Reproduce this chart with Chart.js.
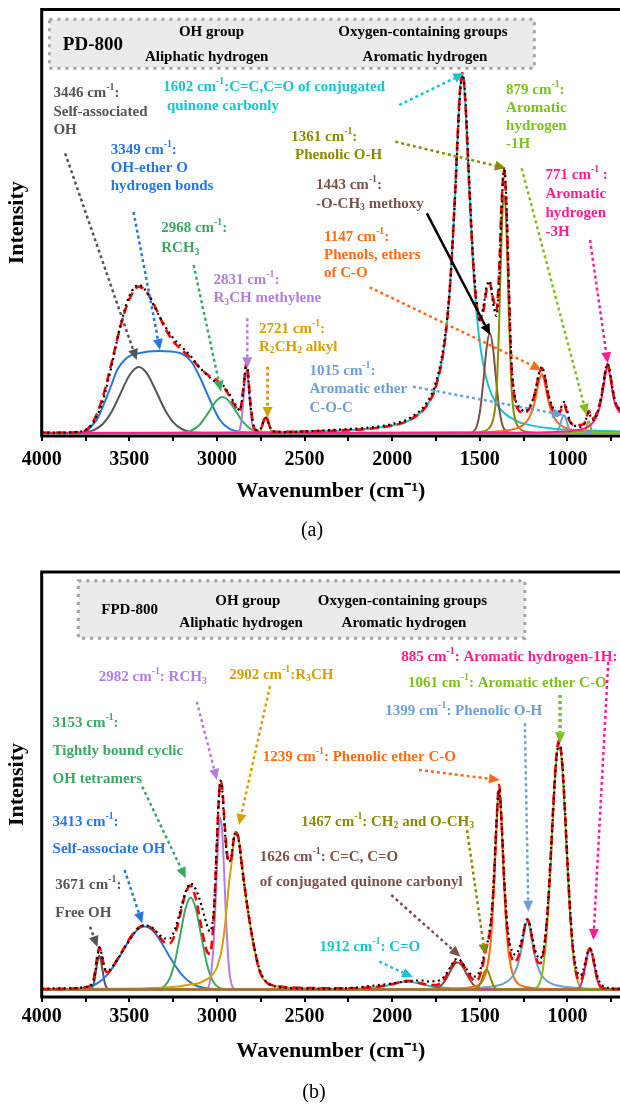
<!DOCTYPE html>
<html>
<head>
<meta charset="utf-8">
<title>FTIR peak fitting: PD-800 and FPD-800</title>
<script src="https://cdn.jsdelivr.net/npm/chart.js"></script>
<style>
  html, body { margin: 0; padding: 0; background: #fff; overflow: hidden; }
  .panel { position: absolute; left: 0; width: 620px; height: 552px; }
  #panelA { top: 0; }
  #panelB { top: 552px; }
</style>
</head>
<body>
<div class="panel" id="panelA"><canvas id="chartA" width="620" height="552"></canvas></div>
<div class="panel" id="panelB"><canvas id="chartB" width="620" height="552"></canvas></div>
<script>
const FONT = '"Liberation Serif", "Times New Roman", serif';

// x axis ticks (cm-1), labels only on the major ones
const majorTicks = [4000, 3500, 3000, 2500, 2000, 1500, 1000];
const minorTicks = [3750, 3250, 2750, 2250, 1750, 1250, 750];

// ---------- (a) PD-800 ----------
const wnA = [4000, 3900, 3850, 3800, 3750, 3700, 3650, 3600, 3550, 3500, 3446, 3400, 3350, 3300, 3250, 3200, 3150, 3100, 3050, 3000,
  2968, 2940, 2900, 2870, 2850, 2831, 2810, 2790, 2770, 2750, 2735, 2721, 2705, 2690, 2670, 2640, 2600, 2500, 2400, 2300,
  2200, 2100, 2000, 1900, 1800, 1750, 1700, 1670, 1640, 1620, 1610, 1600, 1590, 1580, 1560, 1540, 1520, 1500, 1480, 1460,
  1443, 1425, 1405, 1390, 1375, 1361, 1348, 1335, 1320, 1300, 1280, 1260, 1240, 1220, 1200, 1180, 1165, 1147, 1130, 1115,
  1100, 1080, 1060, 1040, 1020, 1005, 990, 970, 950, 930, 910, 895, 879, 865, 850, 830, 810, 795, 780, 771,
  760, 745, 730, 715, 700];
const fitA = [0.2, 0.3, 0.4, 0.8, 2.5, 13.5, 36.6, 71, 106.9, 133.8, 146.4, 140.6, 125.2, 106.2, 91.8, 83, 75.3, 65.4, 57.7, 52.5,
  47.2, 40.4, 27.8, 22, 43.6, 70.7, 32.1, 5.9, 2.3, 3.9, 11.6, 17.1, 10, 2.8, 1.05, 1.1, 1.2, 1.5, 1.9, 2.5,
  3.3, 4.8, 7.5, 13.1, 28.1, 47, 91, 146.8, 244.2, 321.8, 349.5, 359.9, 349.6, 322, 244.6, 175.6, 130.9, 112.6, 121.7, 144,
  149.7, 135.1, 122.6, 160.6, 232, 262.7, 224.5, 146.7, 68.6, 33, 23.2, 20.7, 20.6, 23.9, 30.9, 43.6, 56.4, 65.1, 56.3, 42.5,
  31, 21.9, 17.3, 21.8, 28.7, 21.8, 12.7, 8.5, 8, 8, 8.6, 12.4, 22.3, 16.5, 14.9, 21, 33.3, 48.5, 64.8, 68.6,
  62.9, 46.5, 32.5, 26.2, 22.2];
const measA = [0.5, 0.4, 0.6, 1.2, 3, 12, 33, 68, 108, 137, 148, 141, 124, 108, 95, 86, 77, 66, 57, 50,
  48, 42, 30, 23, 42, 69, 30, 7, 3, 4.5, 11, 15, 9.5, 3.5, 1.5, 1, 0.8, 1.5, 2.5, 3.5,
  4.5, 6, 9, 15, 31, 51, 95, 148, 240, 316, 345, 358, 352, 328, 252, 181, 134, 113, 126, 147,
  152, 131, 117, 150, 226, 266, 230, 152, 74, 37, 27, 23, 22, 25, 32, 45, 58, 66, 58, 44,
  33, 24, 19, 24, 31, 25, 14, 8, 7, 6, 7, 13, 21, 15, 13, 20, 33, 49, 66, 69,
  63, 47, 33, 27, 23];

// fitted components of (a), [wavenumber, intensity]
const a3446 = [[4000, 0], [3850, 0], [3800, 0.2], [3750, 0.9], [3700, 3.2], [3650, 9.3], [3600, 21.6], [3550, 39.6], [3500, 57.5], [3446, 66], [3400, 59.7], [3350, 42.8], [3300, 24.3], [3250, 10.8], [3200, 3.8], [3150, 1.1], [3100, 0.3], [3000, 0], [700, 0]];
const a3349 = [[4000, 0], [3800, 0.3], [3750, 1.3], [3700, 10], [3686, 13], [3650, 27], [3629, 36], [3600, 49], [3572, 62], [3515, 75], [3440, 80], [3330, 82], [3212, 80], [3145, 71], [3098, 56], [3040, 33], [2983, 13], [2926, 4], [2852, 1], [2780, 0.2], [2700, 0], [700, 0]];
const a2968 = [[4000, 0], [3250, 0], [3200, 0.3], [3150, 2], [3100, 8], [3050, 20.1], [3000, 32.9], [2968, 36], [2940, 33.6], [2900, 24.1], [2870, 15.7], [2850, 10.8], [2810, 4.2], [2790, 2.3], [2770, 1.2], [2750, 0.6], [2700, 0.1], [2650, 0], [700, 0]];
const a2831 = [[4000, 0], [2900, 0], [2880, 0.6], [2870, 3.3], [2860, 12.3], [2850, 31], [2840, 53.1], [2831, 62], [2820, 49.1], [2810, 26.6], [2800, 9.8], [2790, 2.5], [2780, 0.4], [2760, 0], [700, 0]];
const a2721 = [[4000, 0], [2780, 0], [2765, 0.2], [2750, 2.4], [2735, 10.3], [2721, 16], [2705, 9], [2690, 1.8], [2675, 0.1], [2650, 0], [700, 0]];
const a1602 = [[4000, 0.2], [3500, 0.3], [3000, 0.6], [2600, 1.2], [2400, 1.9], [2200, 3.3], [2000, 7.4], [1900, 12.9], [1800, 27.9], [1750, 46.7], [1700, 90.4], [1670, 146.1], [1640, 243.3], [1620, 320.9], [1610, 348.6], [1600, 359], [1590, 348.6], [1580, 320.9], [1560, 243.3], [1540, 173.4], [1520, 123.7], [1500, 90.4], [1460, 52.6], [1400, 27.9], [1300, 12.9], [1200, 7.4], [1100, 4.8], [1000, 3.3], [900, 2.5], [800, 1.9], [700, 1.5]];
const a1443 = [[4000, 0], [1580, 0], [1560, 0.1], [1540, 1], [1520, 5.5], [1500, 20.5], [1480, 51.3], [1460, 86.8], [1443, 100], [1425, 85.4], [1405, 49.4], [1390, 25.4], [1375, 10.5], [1360, 3.5], [1340, 0.6], [1320, 0.1], [1300, 0], [700, 0]];
const a1361 = [[4000, 0], [1531, 0.3], [1481, 1.5], [1446, 5], [1426, 12], [1411, 27], [1401, 53], [1391, 102], [1381, 165], [1371, 219], [1361, 237], [1351, 219], [1341, 165], [1331, 102], [1321, 53], [1311, 27], [1296, 12], [1276, 5], [1241, 1.5], [1191, 0.3], [1100, 0], [700, 0]];
const a1147 = [[4000, 0], [2147, 0.1], [1647, 0.4], [1447, 1.1], [1347, 2.5], [1277, 5.6], [1237, 10.6], [1207, 19.4], [1192, 27.5], [1177, 39], [1162, 52.3], [1147, 59], [1132, 52.3], [1117, 39], [1102, 27.5], [1087, 19.4], [1057, 10.6], [1017, 5.6], [947, 2.5], [847, 1.1], [700, 0.5]];
const a1015 = [[4000, 0], [1100, 0], [1080, 0.1], [1060, 1.1], [1040, 9], [1030, 15.1], [1020, 18], [1010, 15.1], [1000, 9], [990, 3.8], [970, 0.2], [950, 0], [700, 0]];
const a879 = [[4000, 0], [930, 0], [910, 0.1], [895, 3.3], [887, 8.7], [879, 12], [871, 8.7], [863, 3.3], [848, 0.1], [830, 0], [700, 0]];
const a771 = [[4000, 0], [1500, 0.2], [1200, 0.5], [1000, 1.6], [950, 2.6], [910, 4.2], [879, 6.6], [850, 11.4], [830, 17.9], [810, 30.4], [795, 45.7], [780, 62.1], [771, 66], [760, 60.4], [745, 44], [730, 30], [715, 24], [700, 20]];

// ---------- (b) FPD-800 ----------
const wnB = [4000, 3900, 3800, 3750, 3720, 3700, 3685, 3671, 3655, 3640, 3620, 3600, 3550, 3500, 3450, 3413, 3370, 3330, 3300, 3270,
  3240, 3210, 3180, 3150, 3120, 3090, 3060, 3040, 3020, 3010, 3000, 2990, 2980, 2970, 2960, 2945, 2930, 2917, 2905, 2893,
  2875, 2860, 2840, 2820, 2800, 2780, 2760, 2740, 2720, 2700, 2650, 2600, 2500, 2400, 2300, 2200, 2100, 2000, 1950, 1912,
  1870, 1830, 1790, 1750, 1720, 1690, 1660, 1640, 1626, 1610, 1590, 1570, 1550, 1530, 1510, 1490, 1475, 1462, 1450, 1435,
  1420, 1405, 1390, 1375, 1360, 1345, 1330, 1315, 1300, 1285, 1270, 1255, 1240, 1228, 1215, 1200, 1185, 1170, 1155, 1140,
  1125, 1110, 1095, 1080, 1065, 1048, 1030, 1015, 1000, 985, 970, 955, 940, 925, 910, 895, 883, 872, 860, 845,
  830, 815, 800, 780, 760, 740, 720, 700];
const fitB = [0.5, 0.6, 1.2, 2.4, 4.3, 13.2, 30.9, 42.3, 32.3, 19.3, 17.2, 21.4, 35.5, 50.4, 61.5, 64.3, 61, 53.1, 47.1, 46.1,
  55, 74.5, 95.9, 103.9, 90.5, 63.6, 39.5, 35.6, 66.9, 103.2, 147, 187.9, 208, 202, 177, 139.4, 127.6, 131.5, 149.3, 157.2,
  150, 128, 100, 75, 53.5, 35.3, 20.3, 12.2, 7.7, 5.2, 3.2, 2.2, 1.5, 1.3, 1.2, 1.5, 2.4, 5.4, 7.6, 8.6,
  7.6, 5.9, 4.5, 4.4, 6.9, 13.7, 23.5, 28.4, 29.6, 28.4, 23.4, 17.3, 11.9, 8.7, 10, 19.4, 31.7, 42, 50, 67.5,
  106.6, 165.2, 204.7, 166, 106.6, 63.1, 40.2, 30.2, 27.5, 30.6, 38.9, 51.6, 65.7, 70.3, 64, 49.1, 35.6, 27.7, 26.2, 33.5,
  52.7, 86.7, 134, 186.6, 229.8, 249.2, 226.1, 180.4, 126.3, 77.8, 42.3, 20.9, 10.4, 8.6, 15, 27.8, 37.6, 41.2, 36.8, 23.4,
  10.8, 3.9, 1.5, 0.85, 0.73, 0.68, 0.63, 0.6];
const measB = [0.8, 1.2, 1.5, 2.5, 4, 12, 29, 42, 33, 21, 19, 22, 35, 49, 61, 64, 62, 55, 51, 51,
  60, 78, 97, 106, 100, 85, 66, 58, 75, 104, 150, 190, 209, 200, 172, 138, 128, 133, 150, 157,
  148, 126, 100, 76, 55, 37, 22, 13, 8, 5, 2.5, 1.5, 1, 0.8, 1, 2, 4, 6, 7.5, 8,
  9, 9, 8, 8.5, 10, 16, 25, 30, 31, 29, 24, 19, 15, 13, 15, 24, 35, 44, 52, 72,
  110, 166, 200, 163, 108, 68, 47, 38, 35, 37, 44, 54, 66, 70, 65, 52, 40, 33, 31, 37,
  55, 88, 134, 184, 226, 246, 228, 184, 130, 82, 47, 26, 16, 14, 19, 30, 38, 40, 37, 26,
  14, 7, 4, 2, 1.5, 1, 0.8, 0.6];

// fitted components of (b), [wavenumber, intensity]
const b3671 = [[4000, 0], [3740, 0], [3720, 0.5], [3710, 2.4], [3700, 7.9], [3685, 24.2], [3671, 34], [3655, 21.8], [3640, 6.4], [3630, 1.9], [3620, 0.4], [3600, 0], [700, 0]];
const b3413 = [[4000, 0], [3850, 0.1], [3800, 0.5], [3750, 1.7], [3700, 4.5], [3650, 10.4], [3600, 20.6], [3550, 34.6], [3500, 49.4], [3450, 60.3], [3413, 63], [3370, 59.4], [3330, 50.5], [3300, 41.9], [3270, 32.8], [3240, 24.2], [3210, 16.9], [3180, 11.1], [3150, 6.9], [3120, 4], [3090, 2.2], [3060, 1.2], [3000, 0.3], [2950, 0.1], [2900, 0], [700, 0]];
const b3153 = [[4000, 0], [3400, 0], [3350, 0.2], [3300, 3.3], [3270, 10.8], [3240, 27.6], [3210, 53.9], [3180, 80.5], [3150, 92], [3120, 80.5], [3090, 53.9], [3060, 27.6], [3040, 15.2], [3020, 7.5], [3000, 3.3], [2960, 0.4], [2930, 0.1], [2900, 0], [700, 0]];
const b2982 = [[4000, 0], [3080, 0], [3060, 0.7], [3040, 7.6], [3020, 42.9], [3010, 78.8], [3000, 121.5], [2990, 157.7], [2980, 172], [2970, 157.7], [2960, 121.5], [2950, 78.8], [2945, 59.4], [2930, 19.6], [2917, 5.5], [2905, 1.3], [2893, 0.2], [2870, 0], [700, 0]];
const b2902 = [[4000, 0.4], [3800, 0.6], [3600, 0.8], [3400, 1.3], [3300, 2], [3200, 3.5], [3150, 5], [3100, 6.5], [3060, 10], [3040, 12], [3020, 16], [3000, 22], [2990, 28], [2975, 38], [2960, 55], [2945, 80], [2930, 108], [2917, 126], [2905, 148], [2893, 157], [2875, 150], [2860, 128], [2840, 100], [2820, 75], [2794, 47], [2770, 27], [2755, 17], [2730, 9], [2700, 5], [2650, 3], [2600, 2], [2500, 1.2], [2300, 0.6], [2000, 0.3], [1500, 0.1], [700, 0]];
const b1912 = [[4000, 0], [3000, 0.1], [2500, 0.3], [2300, 0.6], [2200, 1], [2100, 2], [2000, 4.9], [1950, 7.2], [1912, 8], [1870, 7], [1830, 5.1], [1790, 3.6], [1750, 2.5], [1700, 1.7], [1600, 0.9], [1500, 0.5], [1300, 0.3], [1000, 0.1], [700, 0.1]];
const b1626 = [[4000, 0], [1800, 0], [1750, 1], [1720, 4], [1690, 11.1], [1660, 21], [1640, 25.9], [1626, 27], [1610, 25.5], [1590, 20.4], [1570, 13.7], [1550, 7.7], [1530, 3.7], [1510, 1.5], [1490, 0.5], [1460, 0.1], [1440, 0], [700, 0]];
const b1467 = [[4000, 0], [1540, 0], [1520, 0.6], [1510, 1.9], [1490, 8.9], [1475, 16.8], [1462, 20], [1450, 17.2], [1435, 9.4], [1420, 3.2], [1405, 0.7], [1390, 0.1], [1370, 0], [700, 0]];
const b1239 = [[4000, 0], [2390, 0], [1890, 0.2], [1690, 0.5], [1590, 1.3], [1530, 3], [1500, 5.5], [1480, 10], [1465, 17], [1450, 30], [1440, 44], [1430, 66], [1420, 100], [1410, 140], [1400, 181], [1390, 200], [1380, 181], [1370, 140], [1360, 100], [1350, 66], [1340, 44], [1330, 30], [1315, 17], [1300, 10], [1280, 5.5], [1250, 3], [1190, 1.3], [1090, 0.5], [890, 0.2], [700, 0.1]];
const b1399 = [[4000, 0], [2228, 0.1], [1728, 0.5], [1528, 1.3], [1428, 2.9], [1375, 5.1], [1345, 7.8], [1330, 9.9], [1315, 12.9], [1300, 17.3], [1285, 23.9], [1270, 34], [1255, 48.1], [1240, 62.9], [1228, 68], [1216, 62.9], [1201, 48.1], [1186, 34], [1171, 23.9], [1156, 17.3], [1141, 12.9], [1126, 9.9], [1111, 7.8], [1081, 5.1], [1028, 2.9], [928, 1.3], [728, 0.5], [700, 0.4]];
const b1061 = [[4000, 0], [1250, 0], [1200, 0.3], [1185, 0.9], [1170, 2.9], [1155, 8.1], [1140, 19.8], [1125, 42], [1110, 78.1], [1095, 127], [1080, 180.7], [1065, 224.8], [1048, 245], [1030, 222.5], [1015, 177.2], [1000, 123.5], [985, 75.3], [970, 40.1], [955, 18.7], [940, 7.6], [925, 2.7], [910, 0.9], [895, 0.2], [870, 0], [700, 0]];
const b885 = [[4000, 0], [970, 0], [960, 0.1], [940, 1], [925, 4.2], [910, 12.6], [895, 26.2], [883, 36.3], [872, 40], [860, 35.6], [845, 22.3], [830, 9.8], [815, 3], [800, 0.6], [780, 0.1], [760, 0], [700, 0]];

const COL = {
  gray: '#555555', blue: '#2676e2', green: '#3aa863', purple: '#b07fe0', gold: '#d6a000',
  cyan: '#17c5cf', brown: '#7b5249', olive: '#8a8a00', orange: '#ff6a12', lightblue: '#6c9fd6',
  lime: '#7cc11c', pink: '#ff1d8e', fit: '#ff0000', meas: '#000000'
};

// annotation texts and arrows, placed in data units (wavenumber, intensity)
const notesA = [
  { x: 3933, y: 339.7, c: COL.gray, lines: ['3446 cm^{-1}:', 'Self-associated', 'OH'], gap: 18.5 },
  { x: 3606, y: 283, c: COL.blue, lines: ['3349 cm^{-1}:', 'OH-ether O', 'hydrogen bonds'], gap: 18 },
  { x: 3307, y: 346.3, c: COL.cyan, lines: ['1602 cm^{-1}:C=C,C=O of conjugated', ' quinone carbonly'], gap: 19.3 },
  { x: 2576, y: 296.3, c: COL.olive, lines: ['1361 cm^{-1}:', ' Phenolic O-H'], gap: 18.3 },
  { x: 1350, y: 343, c: COL.lime, lines: ['879 cm^{-1}:', 'Aromatic', 'hydrogen', '-1H'], gap: 18 },
  { x: 1125, y: 258, c: COL.pink, lines: ['771 cm^{-1} :', 'Aromatic', 'hydrogen', '-3H'], gap: 19 },
  { x: 2435, y: 248, c: COL.brown, lines: ['1443 cm^{-1}:', '-O-CH_{3} methoxy'], gap: 19 },
  { x: 3318, y: 204.7, c: COL.green, lines: ['2968 cm^{-1}:', 'RCH_{3}'], gap: 20 },
  { x: 2389, y: 196.3, c: COL.orange, lines: ['1147 cm^{-1}:', 'Phenols, ethers', 'of C-O'], gap: 18 },
  { x: 3020, y: 153, c: COL.purple, lines: ['2831 cm^{-1}:', 'R_{3}CH methylene'], gap: 18.3 },
  { x: 2760, y: 104, c: COL.gold, lines: ['2721 cm^{-1}:', 'R_{2}CH_{2} alkyl'], gap: 17.7 },
  { x: 2472, y: 62.3, c: COL.lightblue, lines: ['1015 cm^{-1}:', 'Aromatic ether', 'C-O-C'], gap: 18.5 }
];
const arrowsA = [
  { from: [3866, 279.7], to: [3458, 73], c: COL.gray },
  { from: [3476, 221], to: [3325, 83], c: COL.blue },
  { from: [3133, 168], to: [2977, 41.3], c: COL.green },
  { from: [2827, 114.7], to: [2827, 64.7], c: COL.purple },
  { from: [2711, 66.3], to: [2711, 15], c: COL.gold, w: 3 },
  { from: [1960, 328], to: [1588, 359.7], c: COL.cyan },
  { from: [1982, 291.3], to: [1351, 264.7], c: COL.olive },
  { from: [1802, 219.7], to: [1441, 98], c: '#000', solid: true },
  { from: [2129, 145.7], to: [1147, 63], c: COL.orange },
  { from: [1881, 46.3], to: [1024, 18], c: COL.lightblue },
  { from: [1261, 264.7], to: [890, 18], c: COL.lime },
  { from: [871, 193], to: [770, 69.7], c: COL.pink }
];
const notesB = [
  { x: 1948.5, y: 332.8, c: COL.pink, lines: ['885 cm^{-1}: Aromatic hydrogen-1H:'] },
  { x: 3674, y: 312.2, c: COL.purple, lines: ['2982 cm^{-1}: RCH_{3}'] },
  { x: 2930, y: 314.5, c: COL.gold, lines: ['2902 cm^{-1}:R_{3}CH'] },
  { x: 1910, y: 306.2, c: COL.lime, lines: ['1061 cm^{-1}: Aromatic ether C-O'] },
  { x: 2039, y: 278.8, c: COL.lightblue, lines: ['1399 cm^{-1}: Phenolic O-H'] },
  { x: 3938, y: 266.2, c: COL.green, lines: ['3153 cm^{-1}:', 'Tightly bound cyclic', 'OH tetramers'], gap: 28 },
  { x: 2738, y: 232.2, c: COL.orange, lines: ['1239 cm^{-1}: Phenolic ether C-O'] },
  { x: 2519, y: 167.8, c: COL.olive, lines: ['1467 cm^{-1}: CH_{2} and O-CH_{3}'] },
  { x: 3938, y: 167.8, c: COL.blue, lines: ['3413 cm^{-1}:', 'Self-associate OH'], gap: 27.3 },
  { x: 2756, y: 132.2, c: COL.brown, lines: ['1626 cm^{-1}: C=C, C=O', 'of conjugated quinone carbonyl'], gap: 24.4 },
  { x: 3922, y: 104.5, c: COL.gray, lines: ['3671 cm^{-1}:', 'Free OH'], gap: 28.3 },
  { x: 2415, y: 42.8, c: COL.cyan, lines: ['1912 cm^{-1}: C=O'] }
];
const arrowsB = [
  { from: [3115, 287.8], to: [3000, 209.5], c: COL.purple },
  { from: [2697, 303.5], to: [2874, 164.5], c: COL.gold },
  { from: [3426, 202.8], to: [3178, 111.2], c: COL.green },
  { from: [3527, 119.5], to: [3426, 66.2], c: COL.blue },
  { from: [3724, 62.8], to: [3682, 42.5], c: COL.gray },
  { from: [1847, 219.5], to: [1385, 209.5], c: COL.orange },
  { from: [1243, 266.2], to: [1223, 77.8], c: COL.lightblue },
  { from: [1042, 294.5], to: [1042, 246.2], c: COL.lime, w: 3.5 },
  { from: [767, 327.5], to: [852, 49.5], c: COL.pink },
  { from: [1573, 159.5], to: [1470, 34.5], c: COL.olive },
  { from: [2005, 94.5], to: [1610, 32.8], c: COL.brown },
  { from: [2073, 27.8], to: [1881, 12.2], c: COL.cyan }
];

// draws "cm^{-1}" / "CH_{3}" style text
function drawRich(ctx, str, x, y, size, color) {
  const parts = str.split(/(\^\{[^}]*\}|_\{[^}]*\})/);
  let cx = x;
  ctx.fillStyle = color;
  ctx.textAlign = 'left';
  ctx.textBaseline = 'middle';
  parts.forEach(p => {
    if (!p) return;
    let s = size, dy = 0, t = p;
    if (p[0] === '^') { t = p.slice(2, -1); s = size * 0.65; dy = -size * 0.36; }
    else if (p[0] === '_') { t = p.slice(2, -1); s = size * 0.65; dy = size * 0.26; }
    ctx.font = 'bold ' + s + 'px ' + FONT;
    ctx.fillText(t, cx, y + dy);
    cx += ctx.measureText(t).width;
  });
}

function drawArrow(ctx, x1, y1, x2, y2, color, solid, width) {
  const ang = Math.atan2(y2 - y1, x2 - x1);
  const hl = 11, hw = 5;
  const bx = x2 - hl * Math.cos(ang), by = y2 - hl * Math.sin(ang);
  ctx.save();
  ctx.strokeStyle = color;
  ctx.lineWidth = width;
  ctx.setLineDash(solid ? [] : [3, 3]);
  ctx.beginPath();
  ctx.moveTo(x1, y1);
  ctx.lineTo(bx, by);
  ctx.stroke();
  ctx.setLineDash([]);
  ctx.fillStyle = color;
  ctx.beginPath();
  ctx.moveTo(x2, y2);
  ctx.lineTo(bx + hw * Math.sin(ang), by - hw * Math.cos(ang));
  ctx.lineTo(bx - hw * Math.sin(ang), by + hw * Math.cos(ang));
  ctx.closePath();
  ctx.fill();
  ctx.restore();
}

function makeOverlay(cfg) {
  return {
    id: 'overlay',
    afterDatasetsDraw(chart) {
      const { ctx, chartArea: ca, scales } = chart;
      const px = (wn, v) => [scales.x.getPixelForValue(wn), scales.y.getPixelForValue(v)];
      ctx.save();

      // header box (legend-like)
      const b = cfg.header.box;
      ctx.fillStyle = '#ebebeb';
      ctx.fillRect(b[0], b[1], b[2] - b[0], b[3] - b[1]);
      ctx.strokeStyle = '#a3a3a3';
      ctx.lineWidth = 3;
      ctx.setLineDash([3, 5]);
      ctx.strokeRect(b[0], b[1], b[2] - b[0], b[3] - b[1]);
      ctx.setLineDash([]);
      ctx.fillStyle = '#000';
      ctx.textAlign = 'center';
      ctx.textBaseline = 'middle';
      cfg.header.items.forEach(it => {
        ctx.font = 'bold ' + it.size + 'px ' + FONT;
        ctx.fillText(it.text, it.x, it.y);
      });

      cfg.arrows.forEach(a => {
        const p1 = px(a.from[0], a.from[1]);
        const p2 = px(a.to[0], a.to[1]);
        drawArrow(ctx, p1[0], p1[1], p2[0], p2[1], a.c, a.solid, a.w || 2.5);
      });
      cfg.notes.forEach(n => {
        const p = px(n.x, n.y);
        n.lines.forEach((l, i) => drawRich(ctx, l, p[0], p[1] + i * (n.gap || 18), 15, n.c));
      });

      // frame: left, top and bottom
      ctx.strokeStyle = '#000';
      ctx.lineWidth = 3;
      ctx.beginPath();
      ctx.moveTo(ca.right + 2, ca.top);
      ctx.lineTo(ca.left, ca.top);
      ctx.lineTo(ca.left, ca.bottom);
      ctx.lineTo(ca.right + 2, ca.bottom);
      ctx.stroke();

      ctx.font = '20px ' + FONT;
      ctx.fillStyle = '#000';
      ctx.textAlign = 'center';
      ctx.textBaseline = 'middle';
      ctx.fillText(cfg.caption.text, cfg.caption.x, cfg.caption.y);
      ctx.restore();
    }
  };
}

function series(pts, color, extra) {
  return Object.assign({
    data: pts.map(p => ({ x: p[0], y: p[1] })),
    borderColor: color,
    borderWidth: 2,
    pointRadius: 0,
    fill: false,
    cubicInterpolationMode: 'monotone'
  }, extra || {});
}

function zip(xs, ys) {
  return xs.map((x, i) => [x, ys[i]]);
}

function makeChart(id, p) {
  const datasets = [
    series(zip(p.wn, p.meas), COL.meas, { borderWidth: 2.2, borderDash: [2, 3.5] }),
    series(zip(p.wn, p.fit), COL.fit, { borderWidth: 2.6, borderDash: [9, 5] })
  ].concat(p.comps.map(c => series(c[0], c[1])));

  return new Chart(document.getElementById(id), {
    type: 'line',
    data: { datasets: datasets },
    options: {
      responsive: false,
      animation: false,
      events: [],
      devicePixelRatio: 1,
      layout: { padding: { top: p.top, left: 0, right: 0, bottom: p.bottom } },
      plugins: { legend: { display: false }, tooltip: { enabled: false } },
      scales: {
        x: {
          type: 'linear',
          reverse: true,
          min: 700,
          max: 4000,
          afterBuildTicks: s => {
            s.ticks = majorTicks.concat(minorTicks).sort((a, b) => b - a).map(v => ({ value: v }));
          },
          afterFit: s => { s.height = p.xHeight; },
          ticks: {
            autoSkip: false,
            maxRotation: 0,
            padding: p.tickPad,
            color: '#000',
            font: { size: 20, weight: 'bold' },
            callback: v => (majorTicks.includes(v) ? String(v) : '')
          },
          grid: { display: true, drawOnChartArea: false, drawTicks: true, tickLength: 5, color: '#000', lineWidth: 2 },
          border: { display: false },
          title: {
            display: true,
            text: 'Wavenumber (cm\u207B\u00B9)',
            color: '#000',
            font: { size: 22, weight: 'bold' },
            padding: { top: 0, bottom: 0 }
          }
        },
        y: {
          min: p.yMin,
          max: p.yMax,
          afterFit: s => { s.width = 41.7; },
          ticks: { display: false },
          grid: { display: false, drawTicks: false },
          border: { display: false },
          title: {
            display: true,
            text: 'Intensity',
            color: '#000',
            font: { size: 22, weight: 'bold' },
            padding: { top: 3.8, bottom: 0 }
          }
        }
      }
    },
    plugins: [makeOverlay(p.overlay)]
  });
}

Chart.defaults.font.family = FONT;
Chart.defaults.color = '#000';

makeChart('chartA', {
  wn: wnA, fit: fitA, meas: measA,
  comps: [[a771, COL.pink], [a879, COL.lime], [a1015, COL.lightblue], [a1147, COL.orange], [a1361, COL.olive],
    [a1443, COL.brown], [a1602, COL.cyan], [a2721, COL.gold], [a2831, COL.purple], [a2968, COL.green],
    [a3349, COL.blue], [a3446, COL.gray]],
  top: 9.5, bottom: 47.8, xHeight: 68.2, tickPad: 7, yMin: -3, yMax: 423.5,
  overlay: {
    header: {
      box: [49.4, 19.3, 534.4, 68.3],
      items: [
        { text: 'PD-800', x: 92.9, y: 45, size: 19 },
        { text: 'OH group', x: 211.5, y: 32.3, size: 15 },
        { text: 'Aliphatic hydrogen', x: 206.7, y: 56.7, size: 15 },
        { text: 'Oxygen-containing groups', x: 423, y: 31.7, size: 15 },
        { text: 'Aromatic hydrogen', x: 425, y: 56.7, size: 15 }
      ]
    },
    notes: notesA, arrows: arrowsA,
    caption: { text: '(a)', x: 312, y: 531 }
  }
});

makeChart('chartB', {
  wn: wnB, fit: fitB, meas: measB,
  comps: [[b1467, COL.olive], [b885, COL.pink], [b1061, COL.lime], [b1399, COL.lightblue], [b1239, COL.orange],
    [b1626, COL.brown], [b1912, COL.cyan], [b2902, COL.gold], [b2982, COL.purple], [b3153, COL.green],
    [b3413, COL.blue], [b3671, COL.gray]],
  top: 20, bottom: 39.8, xHeight: 67.2, tickPad: 3, yMin: -7.5, yMax: 417.5,
  overlay: {
    header: {
      box: [78.3, 28.7, 524.9, 86.3],
      items: [
        { text: 'FPD-800', x: 129.6, y: 58, size: 15 },
        { text: 'OH group', x: 247.8, y: 48.7, size: 15 },
        { text: 'Aliphatic hydrogen', x: 241.1, y: 70.7, size: 15 },
        { text: 'Oxygen-containing groups', x: 402.4, y: 48.7, size: 15 },
        { text: 'Aromatic hydrogen', x: 404, y: 70.7, size: 15 }
      ]
    },
    notes: notesB, arrows: arrowsB,
    caption: { text: '(b)', x: 314, y: 541 }
  }
});
</script>
</body>
</html>
